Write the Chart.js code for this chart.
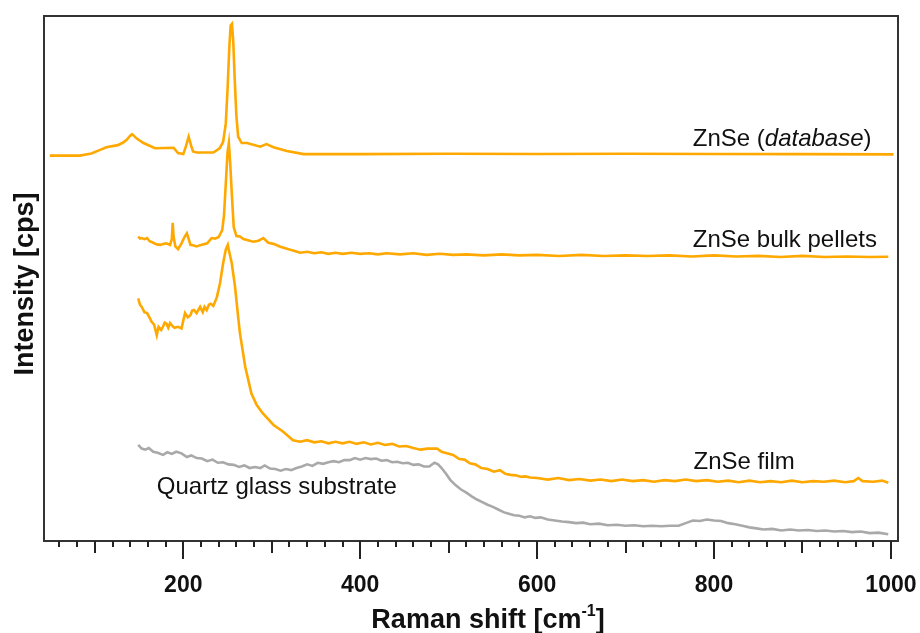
<!DOCTYPE html>
<html>
<head>
<meta charset="utf-8">
<title>Raman ZnSe</title>
<script src="https://cdn.jsdelivr.net/npm/chart.js@4.4.1/dist/chart.umd.min.js"></script>
<style>
  html, body { margin: 0; padding: 0; background: #fff; }
  canvas { display: block; }
</style>
</head>
<body>
<canvas id="chartRaman" width="920" height="633"></canvas>
<script>
// Raman shift [cm-1] / intensity (arbitrary units, offset stack)
const dbShift = [49, 83, 96, 106, 113, 126, 132, 136, 140, 142, 144, 147, 155, 168, 189, 194, 200, 203, 206, 209, 211, 215, 234, 241, 245, 248, 250, 252, 253.5, 255, 256.5, 258, 260, 262, 266, 272, 287, 294, 302, 317, 336, 400, 500, 600, 700, 800, 900, 1003];
const dbIntensity = [73.4, 73.4, 73.8, 74.5, 75.0, 75.4, 75.9, 76.4, 77.2, 77.5, 77.2, 76.7, 75.8, 74.8, 74.9, 73.9, 73.7, 75.2, 77.0, 75.2, 74.2, 74.0, 74.0, 74.8, 76.0, 79.5, 86.0, 94.0, 98.2, 98.5, 95.0, 88.4, 81.0, 77.0, 75.8, 75.8, 75.1, 75.6, 75.0, 74.3, 73.7, 73.7, 73.75, 73.7, 73.75, 73.7, 73.7, 73.65];

const bulkShift = [149, 151, 153, 156, 159, 162, 166, 170, 174, 178, 181, 185, 187, 188, 189, 191, 194, 198, 201, 204, 206, 208, 212, 215, 220, 227, 232, 236, 240, 244, 246, 248, 250, 251.5, 253, 255, 257, 260, 264, 268, 273, 279, 285, 290.5, 296, 302, 309, 318, 325, 332, 340, 348, 356, 364, 372, 380, 390, 400, 410, 420, 430, 445, 460, 475, 490, 505, 520, 540, 560, 580, 600, 625, 650, 675, 700, 725, 750, 775, 800, 825, 850, 875, 900, 925, 950, 975, 997];
const bulkIntensity = [58.0, 57.6, 57.7, 57.5, 57.7, 57.1, 56.8, 56.5, 56.4, 56.6, 56.7, 56.4, 57.5, 60.6, 58.0, 56.1, 55.6, 56.7, 57.8, 58.6, 57.6, 56.4, 56.3, 56.1, 56.4, 56.7, 57.7, 57.6, 57.9, 59.2, 62.0, 68.0, 74.0, 75.8, 72.0, 65.6, 59.8, 58.1, 58.0, 57.5, 57.3, 57.0, 57.2, 57.7, 56.8, 56.6, 56.1, 55.6, 55.3, 54.9, 55.1, 54.8, 55.0, 54.7, 54.9, 54.7, 54.9, 54.7, 54.8, 54.6, 54.8, 54.6, 54.8, 54.5, 54.7, 54.5, 54.6, 54.4, 54.6, 54.4, 54.5, 54.3, 54.5, 54.3, 54.4, 54.3, 54.4, 54.2, 54.4, 54.2, 54.3, 54.1, 54.3, 54.1, 54.2, 54.1, 54.15];

const filmShift = [149, 151, 153, 156, 159, 162, 164, 167, 170, 172, 175, 177, 179, 181, 183, 185, 188, 190, 194, 198, 200, 202, 205, 208, 210, 212, 215, 219, 222, 224, 226.5, 229, 231, 234, 236, 238, 241.5, 245, 248, 250.3, 252, 254.8, 258.5, 262, 264, 270, 277, 283, 290, 302, 313, 324, 332, 340, 348, 356, 364, 372, 380, 388, 396, 404, 412, 420, 428, 436, 444, 452, 460, 468, 476, 487, 492, 498, 505, 512, 518, 524, 530, 537, 544, 551, 558, 564, 570, 576, 581, 587, 592, 600, 612, 624, 636, 648, 660, 672, 684, 696, 708, 720, 732, 744, 756, 768, 780, 792, 804, 816, 828, 840, 852, 864, 876, 888, 900, 912, 924, 936, 948, 958, 963, 968, 980, 990, 997];
const filmIntensity = [46.2, 45.0, 44.6, 43.6, 43.4, 42.5, 41.8, 41.2, 39.2, 40.8, 40.2, 40.8, 41.6, 41.4, 40.6, 41.5, 40.9, 40.6, 40.8, 40.5, 42.0, 43.4, 42.6, 43.0, 43.9, 44.0, 43.4, 44.6, 43.6, 44.6, 44.0, 45.0, 45.2, 44.8, 45.6, 46.5, 49.1, 52.9, 55.5, 56.4, 55.0, 52.9, 48.4, 42.7, 39.6, 33.2, 28.1, 25.9, 24.3, 22.1, 20.8, 19.2, 18.9, 19.2, 18.8, 19.0, 18.6, 18.9, 18.6, 18.9, 18.5, 18.8, 18.4, 18.7, 18.3, 18.5, 18.0, 18.1, 17.7, 17.4, 17.6, 17.6, 17.0, 16.7, 16.4, 15.6, 15.5, 14.8, 14.6, 13.9, 13.7, 13.2, 13.5, 12.8, 12.6, 12.5, 12.25, 12.3, 12.1, 12.0, 11.7, 12.0, 11.6, 11.8, 11.5, 11.7, 11.4, 11.7, 11.4, 11.6, 11.3, 11.6, 11.4, 11.7, 11.4, 11.6, 11.3, 11.5, 11.2, 11.5, 11.2, 11.4, 11.2, 11.5, 11.2, 11.4, 11.3, 11.5, 11.2, 11.4, 12.0, 11.4, 11.3, 11.5, 11.1];

const quartzShift = [149, 153, 157, 161, 166, 171, 177, 182, 187, 192, 198, 204, 209, 215, 221, 227, 233, 239, 245, 251, 257, 263, 269, 275, 281, 287, 292, 298, 304, 310, 316, 322, 328, 334, 340, 346, 352, 358, 364, 370, 376, 382, 388, 394, 400, 406, 412, 418, 424, 430, 436, 442, 448, 454, 460, 466, 472, 478, 484, 488, 492, 497, 502, 508, 514, 520, 526, 532, 538, 544, 550, 556, 562, 568, 574, 580, 586, 592, 598, 604, 612, 620, 628, 636, 644, 652, 660, 670, 680, 690, 700, 710, 720, 730, 740, 750, 760, 768, 776, 784, 792, 800, 808, 816, 824, 832, 840, 848, 856, 866, 876, 886, 896, 906, 916, 926, 936, 946, 956, 966, 976, 986, 997];
const quartzIntensity = [18.3, 17.6, 17.4, 17.7, 17.0, 16.8, 16.4, 16.9, 16.6, 17.0, 16.7, 16.0, 16.3, 15.8, 15.7, 15.2, 15.5, 14.9, 15.0, 14.6, 14.5, 14.1, 14.4, 13.9, 14.1, 13.9, 14.4, 13.8, 13.7, 13.4, 13.7, 13.5, 13.9, 14.2, 14.6, 14.3, 14.9, 14.7, 15.0, 15.2, 15.0, 15.4, 15.4, 15.8, 15.5, 15.8, 15.6, 15.7, 15.3, 15.4, 15.0, 15.1, 14.8, 14.9, 14.5, 14.6, 14.2, 14.2, 14.9, 14.6, 13.9, 12.8, 11.6, 10.6, 9.8, 9.2, 8.5, 7.9, 7.4, 6.9, 6.5, 6.0, 5.5, 5.2, 4.9, 4.8, 4.5, 4.7, 4.4, 4.5, 4.1, 3.9, 3.7, 3.6, 3.4, 3.5, 3.2, 3.3, 3.0, 3.1, 2.9, 3.0, 2.8, 2.9, 2.8, 2.9, 2.9, 3.4, 3.9, 3.8, 4.1, 3.9, 3.8, 3.4, 3.2, 2.9, 2.6, 2.4, 2.2, 2.3, 2.0, 2.2, 2.0, 2.1, 1.9, 2.0, 1.8, 1.9, 1.7, 1.8, 1.5, 1.6, 1.3];

const xTickLabels = [200, 400, 600, 800, 1000];

const NARANJA = "#ffa800";
const GRIS = "#a9a9a9";
const FUENTE = "'Liberation Sans', Arial, sans-serif";

function puntos(xs, ys) {
  return xs.map((x, i) => ({ x, y: ys[i] }));
}

function serie(nombre, xs, ys, color) {
  return {
    label: nombre,
    data: puntos(xs, ys),
    borderColor: color,
    backgroundColor: color,
    borderWidth: 2.6,
    pointRadius: 0,
    tension: 0,
    fill: false
  };
}

const marcoYEjes = {
  id: "marcoYEjes",
  afterDraw(chart) {
    const { ctx, chartArea: area, scales } = chart;
    const sx = scales.x;
    const sy = scales.y;
    ctx.save();

    // marco
    ctx.strokeStyle = "#333";
    ctx.lineWidth = 2;
    ctx.strokeRect(area.left, area.top, area.right - area.left, area.bottom - area.top);

    // ticks del eje x
    ctx.strokeStyle = "#222";
    ctx.lineWidth = 2;
    for (let v = 60; v <= 1000; v += 20) {
      const largo = v % 200 === 0 ? 18 : v % 100 === 0 ? 12 : 6;
      const px = Math.round(sx.getPixelForValue(v));
      ctx.beginPath();
      ctx.moveTo(px, area.bottom);
      ctx.lineTo(px, area.bottom + largo);
      ctx.stroke();
    }

    ctx.fillStyle = "#111";
    ctx.font = "bold 23px " + FUENTE;
    ctx.textAlign = "center";
    ctx.textBaseline = "alphabetic";
    xTickLabels.forEach((v) => {
      ctx.fillText(String(v), sx.getPixelForValue(v), area.bottom + 51);
    });

    // titulo eje x con superindice
    const principal = "Raman shift [cm";
    const sup = "-1";
    const cierre = "]";
    ctx.font = "bold 27px " + FUENTE;
    const w1 = ctx.measureText(principal).width;
    const w3 = ctx.measureText(cierre).width;
    ctx.font = "bold 16px " + FUENTE;
    const w2 = ctx.measureText(sup).width;
    const x0 = 488 - (w1 + w2 + w3) / 2;
    const base = 628;
    ctx.textAlign = "left";
    ctx.font = "bold 27px " + FUENTE;
    ctx.fillText(principal, x0, base);
    ctx.font = "bold 16px " + FUENTE;
    ctx.fillText(sup, x0 + w1, base - 12);
    ctx.font = "bold 27px " + FUENTE;
    ctx.fillText(cierre, x0 + w1 + w2, base);

    // titulo eje y
    ctx.save();
    ctx.translate(33, 284);
    ctx.rotate(-Math.PI / 2);
    ctx.textAlign = "center";
    ctx.font = "bold 27px " + FUENTE;
    ctx.fillText("Intensity [cps]", 0, 0);
    ctx.restore();

    // etiquetas de las curvas
    ctx.fillStyle = "#111";
    ctx.textAlign = "left";
    const etiquetar = (texto, vx, vy) => {
      ctx.fillText(texto, sx.getPixelForValue(vx), sy.getPixelForValue(vy));
    };
    // ZnSe (database) con italica
    let px = sx.getPixelForValue(776);
    const py = sy.getPixelForValue(75.2);
    const partes = [["ZnSe (", ""], ["database", "italic "], [")", ""]];
    partes.forEach(([t, estilo]) => {
      ctx.font = estilo + "24px " + FUENTE;
      ctx.fillText(t, px, py);
      px += ctx.measureText(t).width;
    });
    ctx.font = "24px " + FUENTE;
    etiquetar("ZnSe bulk pellets", 776, 56.0);
    etiquetar("ZnSe film", 776.8, 13.7);
    etiquetar("Quartz glass substrate", 170, 8.95);

    ctx.restore();
  }
};

const canvas = document.getElementById("chartRaman");
new Chart(canvas, {
  type: "line",
  data: {
    datasets: [
      serie("Quartz glass substrate", quartzShift, quartzIntensity, GRIS),
      serie("ZnSe film", filmShift, filmIntensity, NARANJA),
      serie("ZnSe bulk pellets", bulkShift, bulkIntensity, NARANJA),
      serie("ZnSe (database)", dbShift, dbIntensity, NARANJA)
    ]
  },
  options: {
    responsive: false,
    animation: false,
    devicePixelRatio: 1,
    layout: { padding: { left: 44, top: 16, right: 22, bottom: 92 } },
    plugins: { legend: { display: false }, tooltip: { enabled: false } },
    scales: {
      x: { type: "linear", min: 42.5, max: 1008, display: false },
      y: { type: "linear", min: 0, max: 100, display: false }
    }
  },
  plugins: [marcoYEjes]
});
</script>
</body>
</html>
